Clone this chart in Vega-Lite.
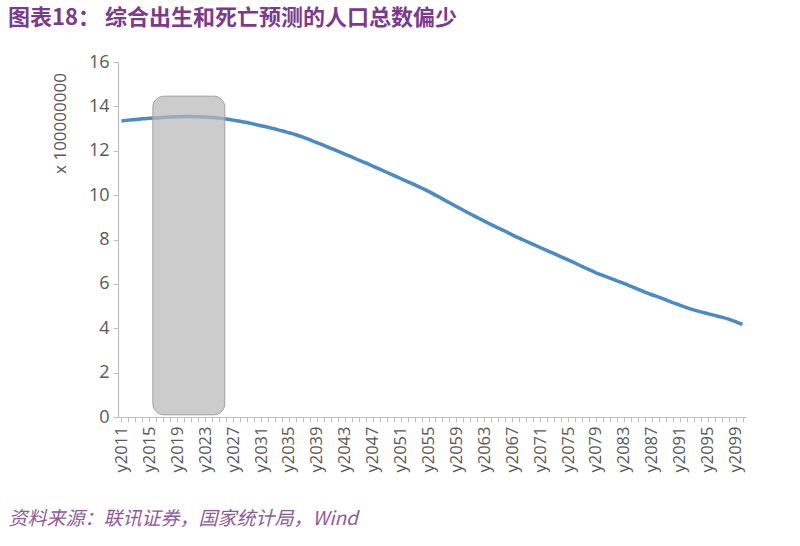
{
  "$schema": "https://vega.github.io/schema/vega-lite/v6.json",
  "width": 628,
  "height": 355,
  "autosize": "none",
  "padding": {"left": 118, "top": 62, "right": 54, "bottom": 129},
  "background": "white",
  "config": {"view": {"stroke": null}, "axis": {"labelOverlap": false}},
  "title": {
    "text": "图表18：   综合出生和死亡预测的人口总数偏少",
    "anchor": "start",
    "frame": "group",
    "dx": -110,
    "dy": 25,
    "offset": 26,
    "baseline": "bottom",
    "font": "Noto Sans CJK SC",
    "fontSize": 22,
    "fontWeight": "bold",
    "color": "#7B3A8E"
  },
  "datasets": {
    "pop": [
      {"year": 2011, "value": 13.34}, {"year": 2012, "value": 13.38}, {"year": 2013, "value": 13.41},
      {"year": 2014, "value": 13.44}, {"year": 2015, "value": 13.46}, {"year": 2016, "value": 13.48},
      {"year": 2017, "value": 13.50}, {"year": 2018, "value": 13.52}, {"year": 2019, "value": 13.53},
      {"year": 2020, "value": 13.54}, {"year": 2021, "value": 13.54}, {"year": 2022, "value": 13.53},
      {"year": 2023, "value": 13.52}, {"year": 2024, "value": 13.50}, {"year": 2025, "value": 13.47},
      {"year": 2026, "value": 13.43}, {"year": 2027, "value": 13.38}, {"year": 2028, "value": 13.33},
      {"year": 2029, "value": 13.27}, {"year": 2030, "value": 13.20}, {"year": 2031, "value": 13.13},
      {"year": 2032, "value": 13.06}, {"year": 2033, "value": 12.98}, {"year": 2034, "value": 12.90},
      {"year": 2035, "value": 12.81}, {"year": 2036, "value": 12.72}, {"year": 2037, "value": 12.61},
      {"year": 2038, "value": 12.49}, {"year": 2039, "value": 12.37}, {"year": 2040, "value": 12.24},
      {"year": 2041, "value": 12.11}, {"year": 2042, "value": 11.98}, {"year": 2043, "value": 11.85},
      {"year": 2044, "value": 11.72}, {"year": 2045, "value": 11.58}, {"year": 2046, "value": 11.45},
      {"year": 2047, "value": 11.31}, {"year": 2048, "value": 11.17}, {"year": 2049, "value": 11.03},
      {"year": 2050, "value": 10.89}, {"year": 2051, "value": 10.75}, {"year": 2052, "value": 10.61},
      {"year": 2053, "value": 10.47}, {"year": 2054, "value": 10.32}, {"year": 2055, "value": 10.17},
      {"year": 2056, "value": 10.00}, {"year": 2057, "value": 9.83}, {"year": 2058, "value": 9.66},
      {"year": 2059, "value": 9.49}, {"year": 2060, "value": 9.32}, {"year": 2061, "value": 9.15},
      {"year": 2062, "value": 8.99}, {"year": 2063, "value": 8.83}, {"year": 2064, "value": 8.67},
      {"year": 2065, "value": 8.52}, {"year": 2066, "value": 8.37}, {"year": 2067, "value": 8.21},
      {"year": 2068, "value": 8.06}, {"year": 2069, "value": 7.92}, {"year": 2070, "value": 7.78},
      {"year": 2071, "value": 7.64}, {"year": 2072, "value": 7.50}, {"year": 2073, "value": 7.36},
      {"year": 2074, "value": 7.22}, {"year": 2075, "value": 7.08}, {"year": 2076, "value": 6.94},
      {"year": 2077, "value": 6.79}, {"year": 2078, "value": 6.64}, {"year": 2079, "value": 6.50},
      {"year": 2080, "value": 6.38}, {"year": 2081, "value": 6.26}, {"year": 2082, "value": 6.14},
      {"year": 2083, "value": 6.02}, {"year": 2084, "value": 5.89}, {"year": 2085, "value": 5.76},
      {"year": 2086, "value": 5.63}, {"year": 2087, "value": 5.51}, {"year": 2088, "value": 5.40},
      {"year": 2089, "value": 5.28}, {"year": 2090, "value": 5.16}, {"year": 2091, "value": 5.04},
      {"year": 2092, "value": 4.93}, {"year": 2093, "value": 4.83}, {"year": 2094, "value": 4.74},
      {"year": 2095, "value": 4.66}, {"year": 2096, "value": 4.58}, {"year": 2097, "value": 4.50},
      {"year": 2098, "value": 4.41}, {"year": 2099, "value": 4.30}, {"year": 2100, "value": 4.17}
    ],
    "band": [
      {"start": 2015.5, "end": 2025.8, "low": 0.1, "high": 14.46}
    ]
  },
  "layer": [
    {
      "data": {"name": "pop"},
      "mark": {"type": "line", "color": "#4A8AC6", "strokeWidth": 3.5, "interpolate": "monotone"},
      "encoding": {
        "x": {
          "field": "year",
          "type": "quantitative",
          "scale": {"domain": [2010.5, 2100.5], "nice": false, "zero": false},
          "axis": {
            "values": [2011,2012,2013,2014,2015,2016,2017,2018,2019,2020,2021,2022,2023,2024,2025,2026,2027,2028,2029,2030,2031,2032,2033,2034,2035,2036,2037,2038,2039,2040,2041,2042,2043,2044,2045,2046,2047,2048,2049,2050,2051,2052,2053,2054,2055,2056,2057,2058,2059,2060,2061,2062,2063,2064,2065,2066,2067,2068,2069,2070,2071,2072,2073,2074,2075,2076,2077,2078,2079,2080,2081,2082,2083,2084,2085,2086,2087,2088,2089,2090,2091,2092,2093,2094,2095,2096,2097,2098,2099,2100],
            "tickCount": 200,
            "labelExpr": "(datum.value - 2011) % 4 == 0 ? 'y' + datum.value : ''",
            "labelAngle": -90,
            "labelAlign": "right",
            "labelBaseline": "middle",
            "labelFont": "Open Sans",
            "labelFontSize": 16.5,
            "labelColor": "#595959",
            "labelPadding": 4,
            "labelOverlap": false,
            "labelBound": false,
            "labelFlush": false,
            "grid": false,
            "domainColor": "#BFBFBF",
            "domainWidth": 1.2,
            "tickColor": "#BFBFBF",
            "tickSize": 5,
            "title": "资料来源：联讯证券，国家统计局，Wind",
            "titleAnchor": "start",
            "titleAlign": "left",
            "titleBaseline": "middle",
            "titleX": -110,
            "titleY": 101,
            "titleFont": "Noto Sans CJK SC",
            "titleFontSize": 19,
            "titleFontStyle": "italic",
            "titleFontWeight": "normal",
            "titleColor": "#8E5A9E"
          }
        },
        "y": {
          "field": "value",
          "type": "quantitative",
          "scale": {"domain": [0, 16], "nice": false},
          "axis": {
            "values": [0, 2, 4, 6, 8, 10, 12, 14, 16],
            "tickCount": 20,
            "labelFont": "Open Sans",
            "labelFontSize": 18,
            "labelColor": "#595959",
            "labelPadding": 4,
            "grid": false,
            "domainColor": "#BFBFBF",
            "domainWidth": 1.2,
            "tickColor": "#BFBFBF",
            "tickSize": 5,
            "title": "x 100000000",
            "titleFont": "Open Sans",
            "titleFontSize": 17,
            "titleFontWeight": "normal",
            "titleColor": "#595959",
            "titleAngle": -90,
            "titleAlign": "center",
            "titleBaseline": "middle",
            "titleX": -58,
            "titleY": 61
          }
        }
      }
    },
    {
      "data": {"name": "band"},
      "mark": {"type": "rect", "fill": "#B8B8BA", "fillOpacity": 0.72, "stroke": "#A0A0A2", "strokeWidth": 1, "cornerRadius": 11},
      "encoding": {
        "x": {"field": "start", "type": "quantitative", "axis": {"labelOverlap": false, "tickCount": 200}},
        "x2": {"field": "end"},
        "y": {"field": "low", "type": "quantitative"},
        "y2": {"field": "high"}
      }
    }
  ]
}
